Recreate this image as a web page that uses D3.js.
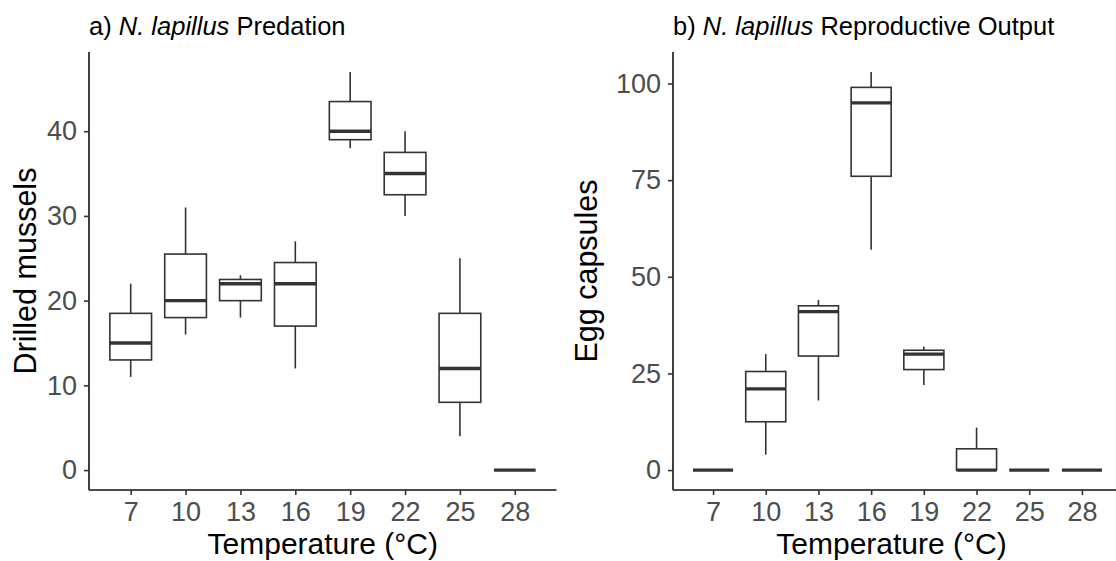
<!DOCTYPE html>
<html>
<head>
<meta charset="utf-8">
<script src="https://cdn.jsdelivr.net/npm/d3@7"></script>
<style>
  body { margin: 0; background: #fff; }
  text { font-family: "Liberation Sans", Arial, sans-serif; }
</style>
</head>
<body>
<div id="chart"></div>
<script>
// temperature treatments (x categories)
const temps = ["7", "10", "13", "16", "19", "22", "25", "28"];

// a) drilled mussels per treatment: whisker low, Q1, median, Q3, whisker high
const predLow = [11, 16, 18, 12, 38, 30, 4, 0];
const predQ1  = [13, 18, 20, 17, 39, 32.5, 8, 0];
const predMed = [15, 20, 22, 22, 40, 35, 12, 0];
const predQ3  = [18.5, 25.5, 22.5, 24.5, 43.5, 37.5, 18.5, 0];
const predHigh = [22, 31, 23, 27, 47, 40, 25, 0];
const predTicks = [0, 10, 20, 30, 40];

// b) egg capsules per treatment
const eggLow = [0, 4, 18, 57, 22, 0, 0, 0];
const eggQ1  = [0, 12.5, 29.5, 76, 26, 0, 0, 0];
const eggMed = [0, 21, 41, 95, 30, 0, 0, 0];
const eggQ3  = [0, 25.5, 42.5, 99, 31, 5.5, 0, 0];
const eggHigh = [0, 30, 44, 103, 32, 11, 0, 0];
const eggTicks = [0, 25, 50, 75, 100];

const width = 1116, height = 561;

const svg = d3.select("#chart").append("svg")
    .attr("width", width)
    .attr("height", height)
    .style("display", "block");

svg.append("rect").attr("width", width).attr("height", height).attr("fill", "#fff");

function boxPanel({ left, right, top = 52, bottom = 490, low, q1, med, q3, high, ticks,
                    yLabel, yLabelX, titlePrefix, titleSuffix }) {

    const maxV = d3.max(high), minV = d3.min(low);
    const pad = (maxV - minV) * 0.05;

    const x = d3.scalePoint().domain(temps).range([left, right]).padding(0.76);
    const y = d3.scaleLinear().domain([minV - pad, maxV + pad]).range([bottom, top]);
    const bw = x.step() * 0.76;

    const g = svg.append("g");

    // boxes
    const box = g.selectAll("g.box")
        .data(temps.map((t, i) => ({ t, lo: low[i], q1: q1[i], md: med[i], q3: q3[i], hi: high[i] })))
        .join("g")
        .attr("class", "box")
        .attr("stroke", "#333")
        .attr("stroke-width", 1.6)
        .attr("fill", "#fff");

    box.append("line")
        .attr("x1", d => x(d.t)).attr("x2", d => x(d.t))
        .attr("y1", d => y(d.hi)).attr("y2", d => y(d.q3));
    box.append("line")
        .attr("x1", d => x(d.t)).attr("x2", d => x(d.t))
        .attr("y1", d => y(d.q1)).attr("y2", d => y(d.lo));
    box.append("rect")
        .attr("x", d => x(d.t) - bw / 2)
        .attr("width", bw)
        .attr("y", d => y(d.q3))
        .attr("height", d => y(d.q1) - y(d.q3));
    box.append("line")
        .attr("stroke-width", 3.4)
        .attr("x1", d => x(d.t) - bw / 2).attr("x2", d => x(d.t) + bw / 2)
        .attr("y1", d => y(d.md)).attr("y2", d => y(d.md));

    // axes
    const yAxis = g.append("g")
        .attr("transform", `translate(${left},0)`)
        .call(d3.axisLeft(y).tickValues(ticks).tickSize(5).tickPadding(7));
    const xAxis = g.append("g")
        .attr("transform", `translate(0,${bottom})`)
        .call(d3.axisBottom(x).tickSize(5).tickPadding(6.5));

    [yAxis, xAxis].forEach(a => {
        a.select(".domain").attr("stroke", "#111").attr("stroke-width", 1.6)
            .attr("d", a === yAxis ? `M0,${top}V${bottom}` : `M${left},0H${right}`);
        a.selectAll(".tick line").attr("stroke", "#333").attr("stroke-width", 1.6);
        a.selectAll(".tick text")
            .attr("fill", "#4d4d4d")
            .style("font-size", "27px")
            .style("font-family", "'Liberation Sans', Arial, sans-serif");
    });

    // axis titles
    g.append("text")
        .attr("x", (left + Math.min(right, width)) / 2 + (right > width ? -3 : 0))
        .attr("y", 554)
        .attr("text-anchor", "middle")
        .style("font-size", "30px")
        .text("Temperature (°C)");

    g.append("text")
        .attr("transform", `translate(${yLabelX},${(top + bottom) / 2}) rotate(-90)`)
        .attr("text-anchor", "middle")
        .style("font-size", "30.5px")
        .text(yLabel);

    // panel title
    const t = g.append("text")
        .attr("x", left)
        .attr("y", 34.5)
        .style("font-size", "25.5px");
    t.append("tspan").text(titlePrefix + " ");
    t.append("tspan").style("font-style", "italic").text("N. lapillus");
    t.append("tspan").text(" " + titleSuffix);
}

boxPanel({
    left: 89, right: 556.5,
    low: predLow, q1: predQ1, med: predMed, q3: predQ3, high: predHigh, ticks: predTicks,
    yLabel: "Drilled mussels", yLabelX: 36,
    titlePrefix: "a)", titleSuffix: "Predation"
});

boxPanel({
    left: 673, right: 1122,
    low: eggLow, q1: eggQ1, med: eggMed, q3: eggQ3, high: eggHigh, ticks: eggTicks,
    yLabel: "Egg capsules", yLabelX: 597,
    titlePrefix: "b)", titleSuffix: "Reproductive Output"
});
</script>
</body>
</html>
